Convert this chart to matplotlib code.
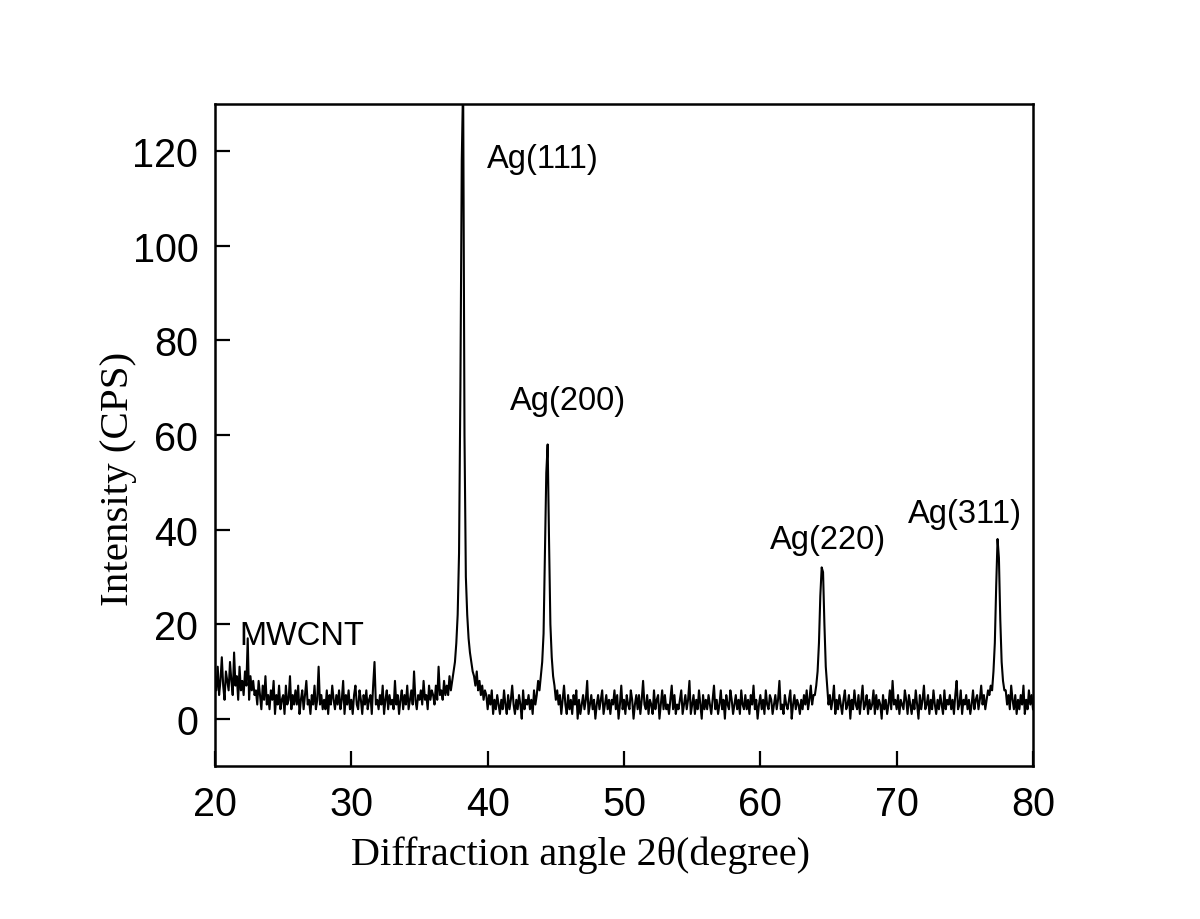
import numpy as np
import matplotlib
matplotlib.use("Agg")
import matplotlib.pyplot as plt

# scan grid: 20.0 .. 80.0 deg, step 0.1
two_theta_start = 20.0
two_theta_step = 0.1

intensity_20_30 = [
    9, 6, 11, 5, 8, 13, 7, 4, 10, 8,
    6, 12, 8, 5, 14, 7, 9, 4, 11, 6,
    8, 5, 10, 7, 17, 4, 9, 6, 8, 5,
    6, 3, 8, 5, 2, 7, 4, 9, 3, 5,
    2, 6, 4, 8, 1, 5, 3, 7, 2, 4,
    5, 1, 7, 3, 4, 9, 2, 5, 3, 6,
    3, 7, 1, 4, 6, 2, 5, 8, 3, 4,
    1, 5, 3, 7, 2, 4, 11, 3, 5, 2,
    4, 2, 6, 1, 5, 3, 7, 4, 2, 5,
    3, 6, 2, 4, 8, 1, 5, 3, 6, 2,
]
intensity_30_40 = [
    4, 1, 5, 7, 3, 2, 6, 4, 1, 5,
    3, 6, 2, 4, 5, 1, 7, 12, 3, 4,
    2, 5, 3, 7, 1, 4, 6, 2, 5, 3,
    4, 2, 8, 3, 5, 1, 4, 6, 2, 5,
    3, 7, 2, 4, 6, 3, 10, 4, 2, 5,
    4, 6, 3, 8, 4, 5, 2, 7, 4, 6,
    5, 3, 7, 4, 11, 5, 6, 4, 8, 5,
    7, 5, 9, 6, 8, 10, 12, 16, 22, 35,
    70, 118, 135, 60, 30, 22, 17, 14, 12, 10,
    9, 7, 10, 6, 8, 5, 7, 4, 6, 5,
]
intensity_40_50 = [
    2, 5, 3, 6, 1, 4, 2, 5, 3, 1,
    4, 2, 6, 3, 1, 5, 2, 4, 7, 3,
    1, 4, 2, 5, 3, 0, 6, 2, 4, 3,
    5, 2, 4, 1, 6, 3, 5, 8, 6, 9,
    12, 18, 35, 52, 58, 38, 20, 13, 9, 7,
    4, 6, 3, 5, 1, 4, 7, 3, 1, 5,
    2, 4, 1, 5, 3, 6, 0, 4, 1, 3,
    5, 2, 4, 8, 1, 3, 5, 2, 4, 0,
    3, 5, 2, 4, 6, 1, 3, 5, 2, 4,
    1, 4, 3, 6, 2, 5, 0, 3, 7, 2,
]
intensity_50_60 = [
    4, 1, 5, 3, 2, 6, 4, 0, 3, 5,
    2, 5, 1, 4, 8, 3, 2, 5, 1, 4,
    3, 1, 6, 2, 4, 5, 0, 3, 6, 2,
    5, 2, 3, 1, 4, 7, 2, 5, 1, 3,
    2, 4, 6, 1, 3, 5, 2, 4, 8, 1,
    3, 5, 1, 4, 2, 6, 3, 0, 5, 2,
    4, 2, 5, 3, 1, 4, 7, 2, 4, 1,
    3, 6, 2, 4, 0, 5, 3, 2, 6, 4,
    1, 3, 5, 2, 4, 1, 6, 3, 2, 5,
    2, 4, 1, 5, 3, 7, 2, 4, 0, 3,
]
intensity_60_70 = [
    5, 2, 4, 1, 6, 3, 2, 5, 4, 1,
    3, 5, 2, 4, 8, 2, 3, 1, 5, 3,
    2, 4, 6, 0, 3, 5, 2, 4, 3, 1,
    4, 2, 5, 3, 6, 2, 4, 7, 3, 5,
    5, 7, 10, 16, 26, 32, 31, 20, 11, 7,
    3, 5, 2, 4, 7, 1, 4, 2, 5, 3,
    1, 4, 6, 2, 3, 5, 0, 4, 2, 6,
    3, 2, 5, 1, 4, 7, 2, 3, 5, 1,
    4, 2, 3, 6, 1, 5, 2, 4, 3, 0,
    5, 2, 4, 1, 3, 6, 2, 8, 3, 4,
]
intensity_70_80 = [
    2, 5, 1, 4, 3, 2, 6, 4, 1, 5,
    3, 1, 4, 2, 6, 3, 0, 5, 2, 4,
    7, 2, 3, 5, 1, 4, 2, 6, 3, 1,
    4, 2, 5, 3, 1, 6, 2, 4, 3, 5,
    2, 4, 1, 5, 8, 2, 3, 6, 1, 4,
    3, 5, 2, 4, 1, 3, 6, 2, 4, 5,
    2, 4, 7, 3, 5, 2, 4, 6, 5, 7,
    6, 10, 16, 28, 38, 34, 21, 12, 8, 6,
    6, 3, 5, 2, 7, 4, 2, 5, 1, 4,
    2, 5, 3, 7, 1, 4, 2, 6, 3, 5,
    2,
]

peak_labels = ["Ag(111)", "Ag(200)", "Ag(220)", "Ag(311)", "MWCNT"]
peak_label_x = [39.95, 41.65, 60.7, 70.85, 21.8]
peak_label_y = [118.5, 67.3, 38.0, 43.4, 17.5]

x_ticks = [20, 30, 40, 50, 60, 70, 80]
y_ticks = [0, 20, 40, 60, 80, 100, 120]

intensity = np.array(intensity_20_30 + intensity_30_40 + intensity_40_50 +
                     intensity_50_60 + intensity_60_70 + intensity_70_80, dtype=float)
two_theta = two_theta_start + two_theta_step * np.arange(len(intensity))

fig = plt.figure(figsize=(12, 9.2), dpi=100)
ax = fig.add_axes([215/1200, 1 - 767/920, (1033-215)/1200, (767-105)/920])
ax.plot(two_theta, intensity, color="black", lw=1.5)

ax.set_xlim(20, 80)
ax.set_ylim(-10, 130)
ax.set_xticks(x_ticks)
ax.set_yticks(y_ticks)

for s in ax.spines.values():
    s.set_linewidth(1.8)
ax.tick_params(direction="in", length=11, width=1.6, top=False, right=False)
ax.tick_params(axis="y", pad=12)
ax.tick_params(axis="x", pad=14)
for lab in ax.get_yticklabels() + ax.get_xticklabels():
    lab.set_fontfamily("Liberation Sans")
    lab.set_fontsize(28.5)

ax.set_xlabel("Diffraction angle 2θ(degree)", fontfamily="Liberation Serif", fontsize=29)
ax.set_ylabel("Intensity (CPS)", fontfamily="Liberation Serif", fontsize=29.5)
ax.xaxis.set_label_coords(0.447, -0.105)
ax.yaxis.set_label_coords(-0.095, 0.435)

for t, xx, yy in zip(peak_labels, peak_label_x, peak_label_y):
    ax.text(xx, yy, t, fontfamily="Liberation Sans", fontsize=23.5, va="center", ha="left")

fig.savefig("out.png", dpi=100, facecolor="white")
